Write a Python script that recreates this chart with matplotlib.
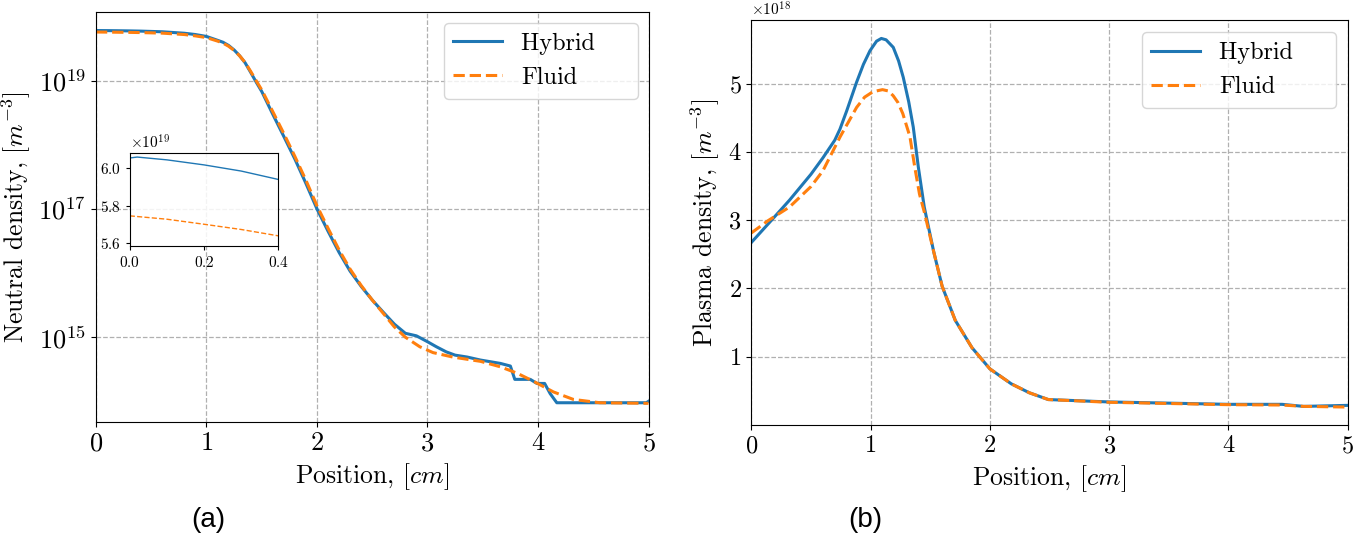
import numpy as np
import matplotlib
matplotlib.use("Agg")
import matplotlib.pyplot as plt

# === Data ===
# (a) neutral density [m^-3] vs position [cm]
x_neut_hyb = [0.0, 0.02, 0.1, 0.2, 0.3, 0.4, 0.6, 0.8, 0.9, 1.0, 1.1, 1.15, 1.2, 1.25,
              1.3, 1.35, 1.4, 1.45, 1.5, 1.6, 1.7, 1.8, 1.9, 2.0, 2.1, 2.2, 2.3, 2.4,
              2.5, 2.6, 2.7, 2.8, 2.9, 3.0, 3.08, 3.17, 3.25, 3.36, 3.48, 3.66, 3.75,
              3.79, 3.93, 3.99, 4.06, 4.11, 4.17, 4.98, 5.0]
n_neut_hyb = [6.055e19, 6.06e19, 6.045e19, 6.018e19, 5.985e19, 5.94e19, 5.80e19,
              5.50e19, 5.25e19, 4.9e19, 4.27e19, 3.98e19, 3.55e19, 3.02e19,
              2.45e19, 1.9e19, 1.35e19, 9.5e18, 6.8e18, 3.0e18, 1.35e18, 6.0e17,
              2.5e17, 1.0e17, 4.5e16, 2.1e16, 1.07e16, 6.2e15,
              3.8e15, 2.45e15, 1.6e15, 1.15e15, 1.05e15, 8.5e14, 7.1e14, 5.9e14,
              5.25e14, 4.9e14, 4.4e14, 3.9e14, 3.55e14,
              2.2e14, 2.2e14, 1.9e14, 1.9e14, 1.32e14, 9.5e13, 9.5e13, 1.0e14]

x_neut_fl = [0.0, 0.1, 0.2, 0.3, 0.4, 0.6, 0.8, 0.9, 1.0, 1.1, 1.15, 1.2, 1.25, 1.3,
             1.35, 1.4, 1.45, 1.5, 1.6, 1.7, 1.8, 1.9, 2.0, 2.1, 2.2, 2.3, 2.4, 2.5,
             2.6, 2.7, 2.8, 2.93, 3.05, 3.23, 3.48, 3.66, 3.81, 3.96, 4.14, 4.32,
             4.56, 5.0]
n_neut_fl = [5.745e19, 5.727e19, 5.70e19, 5.672e19, 5.638e19, 5.52e19, 5.25e19,
             5.0e19, 4.7e19, 4.15e19, 3.85e19, 3.45e19, 2.97e19, 2.45e19,
             1.92e19, 1.4e19, 1.0e19, 7.2e18, 3.3e18, 1.5e18, 6.6e17, 2.8e17,
             1.12e17, 5.0e16, 2.3e16, 1.15e16, 6.4e15, 3.8e15,
             2.35e15, 1.45e15, 1.0e15, 7.1e14, 5.75e14, 4.9e14, 4.2e14, 3.45e14,
             2.75e14, 2.05e14, 1.4e14, 1.07e14, 9.5e13, 9.3e13]

# (b) plasma density [m^-3] vs position [cm]
x_plas_hyb = [0.0, 0.14, 0.32, 0.5, 0.6, 0.7, 0.743, 0.8, 0.883, 0.94, 0.995, 1.05,
              1.09, 1.13, 1.19, 1.235, 1.274, 1.32, 1.358, 1.40, 1.45, 1.53, 1.60,
              1.71, 1.85, 2.0, 2.18, 2.33, 2.49, 3.0, 4.0, 4.45, 4.63, 5.0]
n_plas_hyb = [2.67e18, 2.94e18, 3.29e18, 3.67e18, 3.91e18, 4.17e18, 4.33e18,
              4.60e18, 5.02e18, 5.28e18, 5.48e18, 5.62e18,
              5.66e18, 5.64e18, 5.53e18, 5.33e18, 5.09e18, 4.73e18, 4.36e18,
              3.78e18, 3.19e18, 2.53e18, 2.03e18,
              1.53e18, 1.13e18, 0.82e18, 0.60e18, 0.47e18, 0.37e18,
              0.335e18, 0.30e18, 0.30e18, 0.27e18, 0.285e18]

x_plas_fl = [0.0, 0.14, 0.32, 0.5, 0.6, 0.745, 0.883, 0.95, 1.02, 1.10, 1.15, 1.19,
             1.23, 1.27, 1.33, 1.37, 1.41, 1.45, 1.53, 1.60, 1.71, 1.85, 2.0, 2.18,
             2.33, 2.49, 3.0, 4.0, 4.45, 4.63, 5.0]
n_plas_fl = [2.81e18, 2.99e18, 3.19e18, 3.49e18, 3.72e18, 4.22e18, 4.65e18,
             4.80e18, 4.88e18, 4.91e18, 4.89e18, 4.82e18,
             4.72e18, 4.56e18, 4.22e18, 3.78e18, 3.38e18, 3.12e18, 2.53e18,
             2.03e18, 1.53e18, 1.13e18, 0.82e18, 0.60e18,
             0.47e18, 0.37e18, 0.33e18, 0.295e18, 0.29e18, 0.27e18, 0.26e18]

# === Style ===
plt.rcParams.update({
    'font.family': 'serif',
    'font.serif': ['cmr10'],
    'mathtext.fontset': 'cm',
    'axes.formatter.use_mathtext': True,
    'axes.unicode_minus': False,
})

blue = '#1f77b4'
orange = '#ff7f0e'
lw = 2.2

fig = plt.figure(figsize=(13.63, 5.41), dpi=100)

# --- (a) neutral density ---
ax1 = fig.add_axes([0.0704, 0.220, 0.4054, 0.758])
ax1.plot(x_neut_hyb, n_neut_hyb, color=blue, lw=lw, label='Hybrid    ')
ax1.plot(x_neut_fl, n_neut_fl, color=orange, lw=lw, ls='--', label='Fluid')
ax1.set_yscale('log')
ax1.set_xlim(0, 5)
ax1.set_yticks([1e15, 1e17, 1e19])
ax1.yaxis.set_minor_locator(matplotlib.ticker.NullLocator())
ax1.grid(True, ls='--', color='#b0b0b0', lw=0.9)
ax1.tick_params(labelsize=19)
ax1.set_xlabel('Position, $[cm]$', fontsize=18.5)
ax1.set_ylabel('Neutral density, $[m^{-3}]$', fontsize=18.5)
ax1.legend(loc='upper right', fontsize=17.5, borderaxespad=0.45)

# inset: zoom on the first 0.4 cm
axin = fig.add_axes([0.0952, 0.5458, 0.109, 0.1708])
axin.plot(x_neut_hyb, n_neut_hyb, color=blue, lw=1.0)
axin.plot(x_neut_fl, n_neut_fl, color=orange, lw=1.0, ls='--')
axin.set_xlim(0, 0.4)
axin.set_ylim(5.585e19, 6.08e19)
axin.set_xticks([0.0, 0.2, 0.4])
axin.set_yticks([5.6e19, 5.8e19, 6.0e19])
axin.set_facecolor((1, 1, 1, 0.85))
axin.tick_params(labelsize=11, length=3)
axin.yaxis.get_offset_text().set_fontsize(11)

# --- (b) plasma density ---
ax2 = fig.add_axes([0.5512, 0.2135, 0.4376, 0.7495])
ax2.plot(x_plas_hyb, n_plas_hyb, color=blue, lw=lw, label='Hybrid    ')
ax2.plot(x_plas_fl, n_plas_fl, color=orange, lw=lw, ls='--', label='Fluid')
ax2.set_xlim(0, 5)
ax2.set_yticks([1e18, 2e18, 3e18, 4e18, 5e18])
ax2.grid(True, ls='--', color='#b0b0b0', lw=0.9)
ax2.tick_params(labelsize=17.5)
ax2.yaxis.get_offset_text().set_fontsize(11)
ax2.set_xlabel('Position, $[cm]$', fontsize=18.5)
ax2.set_ylabel('Plasma density, $[m^{-3}]$', fontsize=18.5)
ax2.legend(loc='upper right', fontsize=17.5)

fig.text(208 / 1363, 1 - 520 / 541, '(a)', family='Liberation Sans', fontsize=20,
         ha='center', va='center')
fig.text(865 / 1363, 1 - 520 / 541, '(b)', family='Liberation Sans', fontsize=20,
         ha='center', va='center')

fig.savefig('out.png', dpi=100)
